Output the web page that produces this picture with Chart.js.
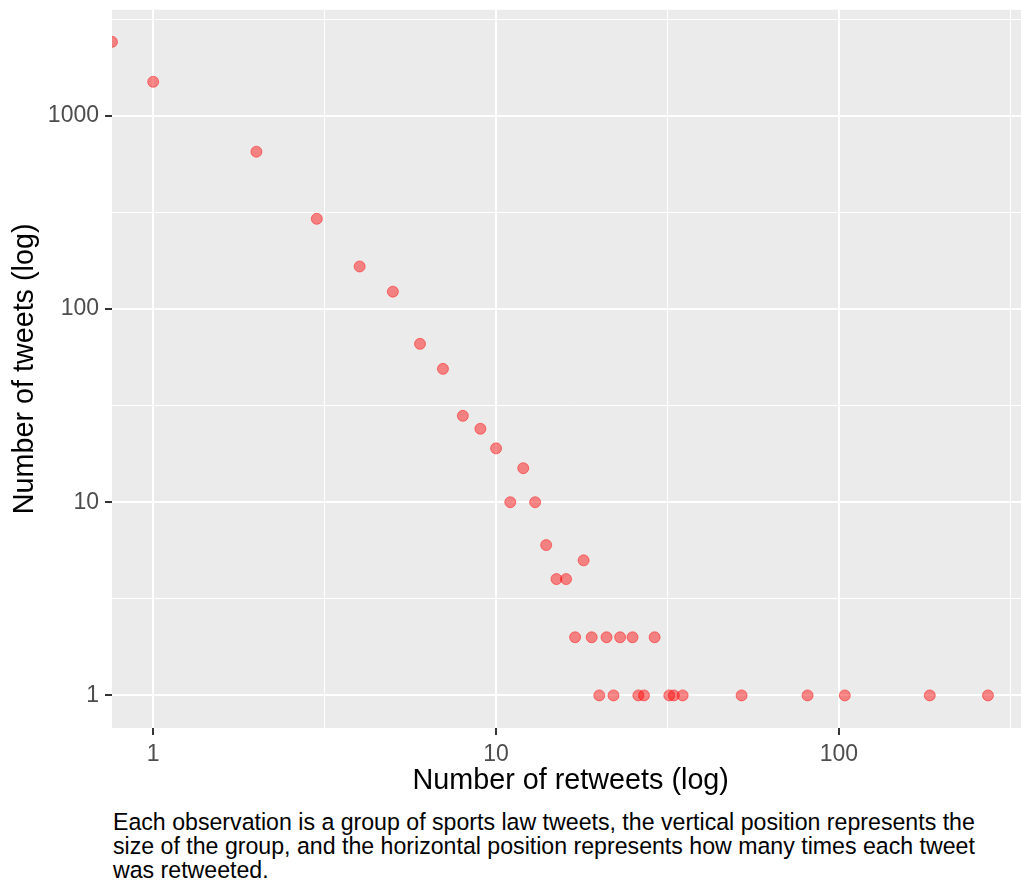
<!DOCTYPE html>
<html>
<head>
<meta charset="utf-8">
<script src="https://cdn.jsdelivr.net/npm/chart.js@4/dist/chart.umd.min.js"></script>
<style>
  body { margin: 0; background: #fff; }
  #wrap { position: relative; width: 1021px; height: 884px; overflow: hidden; }
  /* canvas is nudged so the panel lands where ggplot put it (runs past the right edge) */
  #chart { position: absolute; left: 0; top: -10px; }
  #caption {
    position: absolute; left: 113px; top: 810px;
    font-family: "Liberation Sans", Arial, sans-serif;
    font-size: 23.15px; line-height: 24px; color: #000;
  }
</style>
</head>
<body>
<div id="wrap">
  <canvas id="chart" width="1036" height="810"></canvas>
  <div id="caption">Each observation is a group of sports law tweets, the vertical position represents the<br>size of the group, and the horizontal position represents how many times each tweet<br>was retweeted.</div>
</div>
<script>
// data (retweets = 0 sits on the left edge, like log(0) in ggplot)
const retweets = [0, 1, 2, 3, 4, 5, 6, 7, 8, 9, 10, 11, 12, 13, 14, 15, 16, 17, 18, 19,
  20, 21, 22, 23, 25, 26, 27, 29, 32, 33, 35, 52, 81, 104, 184, 272];
const tweets = [2415, 1500, 652, 293, 166, 123, 66, 49, 28, 24, 19, 10, 15, 10, 6, 4, 4, 2, 5, 2,
  1, 2, 1, 2, 2, 1, 1, 2, 1, 1, 1, 1, 1, 1, 1, 1];

const xBreaks = [1, 10, 100];
const yBreaks = [1, 10, 100, 1000];

// minor grid sits halfway between decades (ggplot style)
const withMinor = b => b.flatMap(v => [v, v * Math.sqrt(10)]);
const isMajor = (list, v) => list.some(b => Math.abs(b - v) < 1e-6);

Chart.defaults.font.family = '"Liberation Sans", Arial, sans-serif';

const panelBg = {
  id: "panelBg",
  beforeDraw(chart) {
    const { ctx, chartArea: a } = chart;
    ctx.save();
    ctx.fillStyle = "#EBEBEB";
    ctx.fillRect(a.left, a.top, a.right - a.left, a.bottom - a.top);
    ctx.restore();
  }
};

function axis(breaks, extra) {
  return Object.assign({
    type: "logarithmic",
    border: { display: false },
    grid: {
      color: "#FFFFFF",
      lineWidth: c => (c.tick && isMajor(breaks, c.tick.value)) ? 2 : 1,
      tickColor: c => (c.tick && isMajor(breaks, c.tick.value)) ? "#333333" : "rgba(0,0,0,0)",
      tickWidth: 2,
      tickLength: 7
    },
    afterBuildTicks: s => { s.ticks = withMinor(breaks).map(v => ({ value: v })); },
    ticks: {
      autoSkip: false,
      maxRotation: 0,
      padding: 6,
      color: "#4D4D4D",
      font: { size: 23 },
      callback: v => isMajor(breaks, v) ? String(Math.round(v)) : ""
    }
  }, extra);
}

new Chart(document.getElementById("chart"), {
  type: "scatter",
  data: {
    datasets: [{
      data: retweets.map((x, i) => ({ x: x, y: tweets[i] })),
      backgroundColor: "rgba(255,0,0,0.45)",
      borderColor: "rgba(255,0,0,0.45)",
      borderWidth: 1,
      pointRadius: 5.5
    }]
  },
  options: {
    responsive: false,
    animation: false,
    layout: { padding: 0 },
    plugins: { legend: { display: false }, tooltip: { enabled: false } },
    scales: {
      x: axis(xBreaks, {
        min: 0.7583, max: 359.5,
        afterFit: s => { s.height = 72; },
        title: { display: true, text: "Number of retweets (log)", color: "#000",
                 font: { size: 28.75 }, padding: { top: 0, bottom: 2 } }
      }),
      y: axis(yBreaks, {
        min: 0.678, max: 3538,
        afterFit: s => { s.width = 112; },
        title: { display: true, text: "Number of tweets (log)", color: "#000",
                 font: { size: 28.75 }, padding: { top: 8, bottom: 0 } }
      })
    }
  },
  plugins: [panelBg]
});
</script>
</body>
</html>
